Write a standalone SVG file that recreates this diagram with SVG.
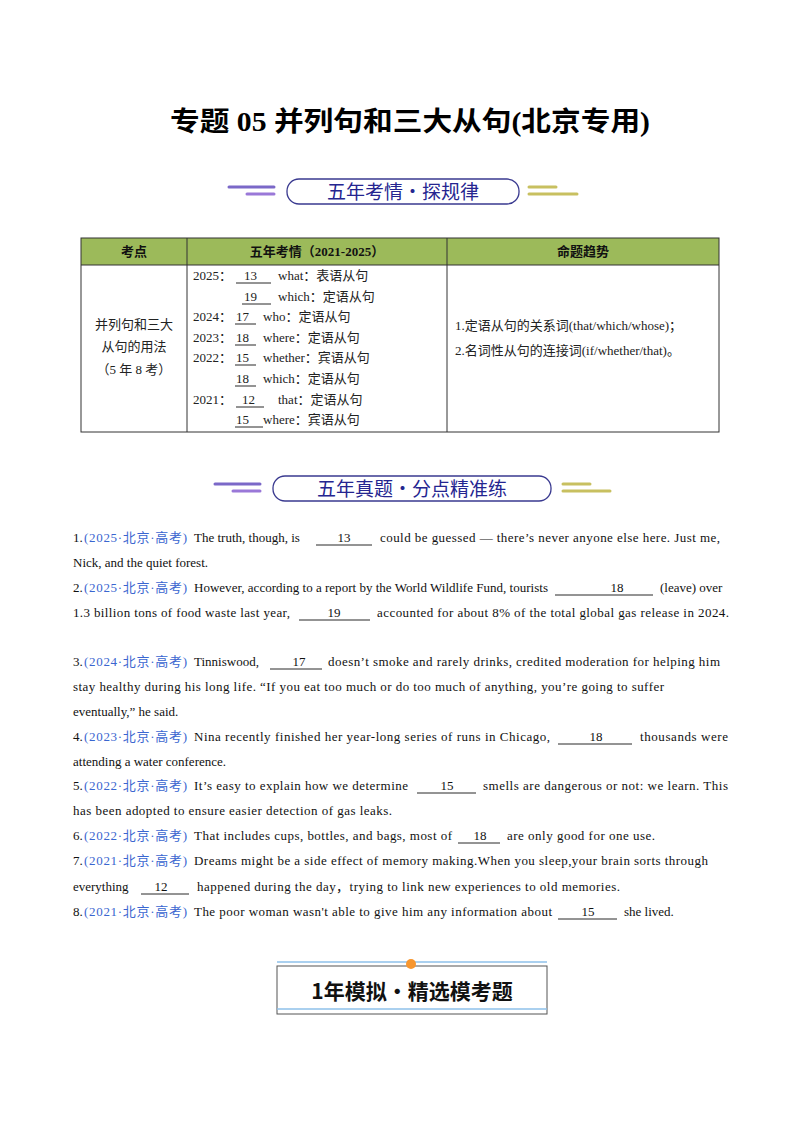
<svg xmlns="http://www.w3.org/2000/svg" width="800" height="1132" viewBox="0 0 800 1132">
<style>
.t{font-family:"Liberation Serif","Noto Sans CJK SC",serif;font-size:13px;fill:#111}
.b{fill:#3a66d0}
.c{font-family:"Liberation Serif","Noto Sans CJK SC",serif;font-size:13px;fill:#222}
.h{font-family:"Liberation Serif","Noto Sans CJK SC",serif;font-size:13px;font-weight:bold;fill:#111}
.u{stroke:#111;stroke-width:0.9}
.m{text-anchor:middle}
</style>
<rect width="800" height="1132" fill="#fff"/>
<text x="170" y="131" textLength="480" lengthAdjust="spacingAndGlyphs" style="font-family:'Liberation Serif','Noto Sans CJK SC',serif;font-size:27px;font-weight:bold">专题 05  并列句和三大从句(北京专用)</text>
<g id="banner1">
<g stroke-linecap="round" stroke-width="3"><line x1="229" y1="187" x2="274" y2="187" stroke="#7b68c8"/><line x1="247" y1="194" x2="274" y2="194" stroke="#9a78d8"/><line x1="529" y1="187" x2="556" y2="187" stroke="#c8c060"/><line x1="529" y1="194" x2="577" y2="194" stroke="#c8c060"/></g>
<rect x="287" y="179" width="232" height="25" rx="12" fill="#fff" stroke="#3a3a90" stroke-width="1.3"/>
<text x="403" y="199" text-anchor="middle" style="font-family:'Noto Sans CJK SC',sans-serif;font-size:19px;fill:#252590">五年考情・探规律</text>
</g>
<g id="table">
<rect x="81" y="238" width="638" height="27" fill="#9cba5a"/>
<rect x="81" y="238" width="638" height="194" fill="none" stroke="#333" stroke-width="1"/>
<line x1="81" y1="265" x2="719" y2="265" stroke="#333"/>
<line x1="187" y1="238" x2="187" y2="432" stroke="#333"/>
<line x1="447" y1="238" x2="447" y2="432" stroke="#333"/>
<text class="h m" x="134" y="256">考点</text>
<text class="h m" x="317" y="256">五年考情（2021-2025）</text>
<text class="h m" x="583" y="256">命题趋势</text>
<text class="c m" x="134" y="329">并列句和三大</text>
<text class="c m" x="134" y="351">从句的用法</text>
<text class="c m" x="134" y="374">（5 年 8 考）</text>
<g class="c">
<text x="193" y="280">2025：</text><text x="244" y="280">13</text><text x="278" y="280">what：表语从句</text>
<text x="244" y="301">19</text><text x="278" y="301">which：定语从句</text>
<text x="193" y="321">2024：</text><text x="236" y="321">17</text><text x="263" y="321">who：定语从句</text>
<text x="193" y="342">2023：</text><text x="236" y="342">18</text><text x="263" y="342">where：定语从句</text>
<text x="193" y="362">2022：</text><text x="236" y="362">15</text><text x="263" y="362">whether：宾语从句</text>
<text x="236" y="383">18</text><text x="263" y="383">which：定语从句</text>
<text x="193" y="404">2021：</text><text x="242" y="404">12</text><text x="278" y="404">that：定语从句</text>
<text x="236" y="424">15</text><text x="263" y="424">where：宾语从句</text>
</g>
<g class="u"><line x1="236" y1="283" x2="271" y2="283"/><line x1="242" y1="304" x2="271" y2="304"/><line x1="235" y1="324" x2="256" y2="324"/><line x1="235" y1="345" x2="256" y2="345"/><line x1="235" y1="365" x2="256" y2="365"/><line x1="235" y1="386" x2="256" y2="386"/><line x1="236" y1="407" x2="264" y2="407"/><line x1="235" y1="427" x2="263" y2="427"/></g>
<text class="c" x="455" y="330">1.定语从句的关系词(that/which/whose)；</text>
<text class="c" x="455" y="355">2.名词性从句的连接词(if/whether/that)。</text>
</g>
<g id="banner2">
<g stroke-linecap="round" stroke-width="3"><line x1="215" y1="484" x2="260" y2="484" stroke="#7b68c8"/><line x1="233" y1="491" x2="260" y2="491" stroke="#9a78d8"/><line x1="563" y1="484" x2="590" y2="484" stroke="#c8c060"/><line x1="563" y1="491" x2="610" y2="491" stroke="#c8c060"/></g>
<rect x="273" y="476" width="278" height="25" rx="12" fill="#fff" stroke="#3a3a90" stroke-width="1.3"/>
<text x="412" y="496" text-anchor="middle" style="font-family:'Noto Sans CJK SC',sans-serif;font-size:19px;fill:#252590">五年真题・分点精准练</text>
</g>
<g id="questions" class="t">
<text x="73" y="542">1.</text><text class="b" x="84" y="542" textLength="103" lengthAdjust="spacing">(2025·北京·高考)</text><text x="194" y="542">The truth, though, is</text><text class="m" x="344" y="542">13</text><text x="380" y="542" textLength="340" lengthAdjust="spacing">could be guessed — there’s never anyone else here. Just me,</text>
<text x="73" y="567">Nick, and the quiet forest.</text>
<text x="73" y="592">2.</text><text class="b" x="84" y="592" textLength="103" lengthAdjust="spacing">(2025·北京·高考)</text><text x="194" y="592" textLength="354" lengthAdjust="spacing">However, according to a report by the World Wildlife Fund, tourists</text><text class="m" x="617" y="592">18</text><text x="660" y="592">(leave) over</text>
<text x="73" y="617" textLength="217" lengthAdjust="spacing">1.3 billion tons of food waste last year,</text><text class="m" x="334" y="617">19</text><text x="377" y="617" textLength="352" lengthAdjust="spacing">accounted for about 8% of the total global gas release in 2024.</text>
<text x="73" y="666">3.</text><text class="b" x="84" y="666" textLength="103" lengthAdjust="spacing">(2024·北京·高考)</text><text x="194" y="666">Tinniswood,</text><text class="m" x="299" y="666">17</text><text x="328" y="666" textLength="392" lengthAdjust="spacing">doesn’t smoke and rarely drinks, credited moderation for helping him</text>
<text x="73" y="691" textLength="591" lengthAdjust="spacing">stay healthy during his long life. “If you eat too much or do too much of anything, you’re going to suffer</text>
<text x="73" y="716">eventually,” he said.</text>
<text x="73" y="741">4.</text><text class="b" x="84" y="741" textLength="103" lengthAdjust="spacing">(2023·北京·高考)</text><text x="194" y="741" textLength="356" lengthAdjust="spacing">Nina recently finished her year-long series of runs in Chicago,</text><text class="m" x="596" y="741">18</text><text x="640" y="741" textLength="88" lengthAdjust="spacing">thousands were</text>
<text x="73" y="766">attending a water conference.</text>
<text x="73" y="790">5.</text><text class="b" x="84" y="790" textLength="103" lengthAdjust="spacing">(2022·北京·高考)</text><text x="194" y="790" textLength="214" lengthAdjust="spacing">It’s easy to explain how we determine</text><text class="m" x="447" y="790">15</text><text x="483" y="790" textLength="245" lengthAdjust="spacing">smells are dangerous or not: we learn. This</text>
<text x="73" y="815" textLength="319" lengthAdjust="spacing">has been adopted to ensure easier detection of gas leaks.</text>
<text x="73" y="840">6.</text><text class="b" x="84" y="840" textLength="103" lengthAdjust="spacing">(2022·北京·高考)</text><text x="194" y="840" textLength="258" lengthAdjust="spacing">That includes cups, bottles, and bags, most of</text><text class="m" x="480" y="840">18</text><text x="507" y="840" textLength="148" lengthAdjust="spacing">are only good for one use.</text>
<text x="73" y="865">7.</text><text class="b" x="84" y="865" textLength="103" lengthAdjust="spacing">(2021·北京·高考)</text><text x="194" y="865" textLength="514" lengthAdjust="spacing">Dreams might be a side effect of memory making.When you sleep,your brain sorts through</text>
<text x="73" y="891">everything</text><text class="m" x="161" y="891">12</text><text x="197" y="891" textLength="423" lengthAdjust="spacing">happened during the day，trying to link new experiences to old memories.</text>
<text x="73" y="916">8.</text><text class="b" x="84" y="916" textLength="103" lengthAdjust="spacing">(2021·北京·高考)</text><text x="194" y="916" textLength="358" lengthAdjust="spacing">The poor woman wasn't able to give him any information about</text><text class="m" x="588" y="916">15</text><text x="624" y="916">she lived.</text>
</g>
<g class="u">
<line x1="316" y1="545" x2="372" y2="545"/><line x1="555" y1="595" x2="653" y2="595"/><line x1="299" y1="620" x2="370" y2="620"/><line x1="270" y1="669" x2="322" y2="669"/><line x1="558" y1="744" x2="632" y2="744"/><line x1="417" y1="793" x2="476" y2="793"/><line x1="458" y1="843" x2="500" y2="843"/><line x1="141" y1="894" x2="189" y2="894"/><line x1="558" y1="919" x2="617" y2="919"/>
</g>
<g id="banner3">
<rect x="277" y="966" width="270" height="48" fill="#fff" stroke="#555" stroke-width="1"/>
<line x1="277" y1="962" x2="547" y2="962" stroke="#8ec0ea" stroke-width="1.5"/>
<line x1="277" y1="1009" x2="547" y2="1009" stroke="#8ec0ea" stroke-width="1.5"/>
<circle cx="411" cy="964" r="5" fill="#f7962e"/>
<text x="412" y="999" text-anchor="middle" style="font-family:'Noto Sans CJK SC',sans-serif;font-size:21px;font-weight:bold;fill:#111">1年模拟•精选模考题</text>
</g>
</svg>
